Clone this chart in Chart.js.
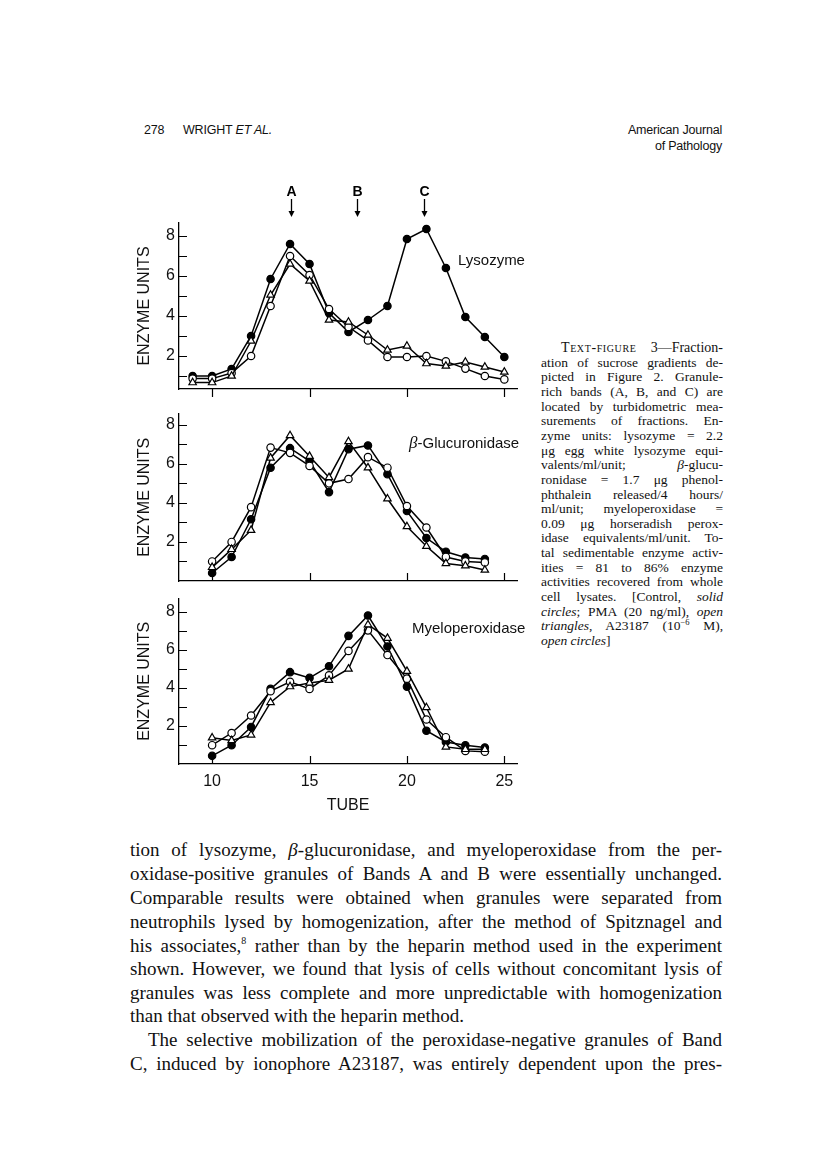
<!DOCTYPE html>
<html>
<head>
<meta charset="utf-8">
<script src="https://cdn.jsdelivr.net/npm/chart.js@4.4.1/dist/chart.umd.min.js"></script>
<style>
  body { margin: 0; background: #fff; }
  #page { position: relative; width: 816px; height: 1164px; overflow: hidden; color: #111; }
  canvas { position: absolute; }
  .sans { font-family: "Liberation Sans", Arial, sans-serif; position: absolute; white-space: nowrap; }
  .lbl { font-size: 15px; line-height: 18px; }
  .hdr { font-size: 12.5px; line-height: 16px; letter-spacing: -0.2px; }
  .cap { position: absolute; left: 541px; width: 182px; font-family: "Liberation Serif", serif; font-size: 13.5px;
         line-height: 15px; text-align: justify; text-align-last: justify; }
  .body { position: absolute; left: 130px; width: 592px; font-family: "Liberation Serif", serif; font-size: 19px;
          line-height: 24px; text-align: justify; text-align-last: justify; }
  .sc { font-variant: small-caps; letter-spacing: 0.6px; font-size: 14px; }
  .up { position: relative; line-height: 0; vertical-align: baseline; }
</style>
</head>
<body>
<div id="page">
  <div class="sans hdr" style="left:144px;top:122px;">278</div>
  <div class="sans hdr" style="left:183px;top:122px;">WRIGHT <i>ET AL.</i></div>
  <div class="sans hdr" style="right:94px;top:122px;text-align:right;">American Journal</div>
  <div class="sans hdr" style="right:94px;top:138px;text-align:right;">of Pathology</div>

  <canvas id="lyso" width="400" height="225" style="left:130px;top:180px"></canvas>
  <canvas id="gluc" width="400" height="200" style="left:130px;top:400px"></canvas>
  <canvas id="mpo" width="400" height="230" style="left:130px;top:585px"></canvas>

  <div class="sans lbl" style="left:458px;top:251px;">Lysozyme</div>
  <div class="sans lbl" style="left:409px;top:434px;"><i style="font-family:'Liberation Serif',serif;font-size:17px;">β</i>-Glucuronidase</div>
  <div class="sans lbl" style="left:412px;top:619px;">Myeloperoxidase</div>

  <div class="cap" style="top:340px;text-indent:20px;font-size:14px;"><span class="sc">Text-figure</span> 3—Fraction-</div>
  <div class="cap" style="top:354.6px;">ation of sucrose gradients de-</div>
  <div class="cap" style="top:369.3px;">picted in Figure 2. Granule-</div>
  <div class="cap" style="top:384px;">rich bands (A, B, and C) are</div>
  <div class="cap" style="top:398.6px;">located by turbidometric mea-</div>
  <div class="cap" style="top:413.2px;">surements of fractions. En-</div>
  <div class="cap" style="top:427.9px;">zyme units: lysozyme = 2.2</div>
  <div class="cap" style="top:442.5px;">μg egg white lysozyme equi-</div>
  <div class="cap" style="top:457.2px;">valents/ml/unit; <i>β</i>-glucu-</div>
  <div class="cap" style="top:471.8px;">ronidase = 1.7 μg phenol-</div>
  <div class="cap" style="top:486.5px;">phthalein released/4 hours/</div>
  <div class="cap" style="top:501.1px;">ml/unit; myeloperoxidase =</div>
  <div class="cap" style="top:515.8px;">0.09 μg horseradish perox-</div>
  <div class="cap" style="top:530.4px;">idase equivalents/ml/unit. To-</div>
  <div class="cap" style="top:545.1px;">tal sedimentable enzyme activ-</div>
  <div class="cap" style="top:559.7px;">ities = 81 to 86% enzyme</div>
  <div class="cap" style="top:574.4px;">activities recovered from whole</div>
  <div class="cap" style="top:589px;">cell lysates. [Control, <i>solid</i></div>
  <div class="cap" style="top:603.7px;"><i>circles</i>; PMA (20 ng/ml), <i>open</i></div>
  <div class="cap" style="top:618.3px;"><i>triangles</i>, A23187 (10<span class="up" style="font-size:8.5px;top:-5px;">−6</span> M),</div>
  <div class="cap" style="top:633px;text-align-last:left;"><i>open circles</i>]</div>

  <div class="body" style="top:838px;">tion of lysozyme, <i>β</i>-glucuronidase, and myeloperoxidase from the per-</div>
  <div class="body" style="top:862px;">oxidase-positive granules of Bands A and B were essentially unchanged.</div>
  <div class="body" style="top:886px;">Comparable results were obtained when granules were separated from</div>
  <div class="body" style="top:910px;">neutrophils lysed by homogenization, after the method of Spitznagel and</div>
  <div class="body" style="top:934px;">his associates,<span class="up" style="font-size:10px;top:-8px;">8</span> rather than by the heparin method used in the experiment</div>
  <div class="body" style="top:957px;">shown. However, we found that lysis of cells without concomitant lysis of</div>
  <div class="body" style="top:981px;">granules was less complete and more unpredictable with homogenization</div>
  <div class="body" style="top:1004px;text-align-last:left;">than that observed with the heparin method.</div>
  <div class="body" style="top:1028px;text-indent:18px;">The selective mobilization of the peroxidase-negative granules of Band</div>
  <div class="body" style="top:1052px;">C, induced by ionophore A23187, was entirely dependent upon the pres-</div>
</div>

<script>
// tube numbers
var tubesLyso = [9, 10, 11, 12, 13, 14, 15, 16, 17, 18, 19, 20, 21, 22, 23, 24, 25];
var tubes = [10, 11, 12, 13, 14, 15, 16, 17, 18, 19, 20, 21, 22, 23, 24];

// lysozyme
var lysoControl = [1.0, 1.0, 1.35, 3.0, 5.85, 7.6, 6.6, 4.15, 3.2, 3.8, 4.5, 7.85, 8.35, 6.4, 3.95, 2.95, 1.95];
var lysoPMA     = [0.67, 0.67, 1.0, 2.75, 5.05, 6.6, 5.75, 3.8, 3.7, 3.05, 2.3, 2.5, 1.62, 1.5, 1.7, 1.45, 1.2];
var lysoA23187  = [0.87, 0.87, 1.15, 2.0, 4.5, 7.0, 6.05, 4.35, 3.45, 2.78, 1.95, 1.95, 2.0, 1.73, 1.37, 1.0, 0.83];

// beta-glucuronidase
var glucControl = [0.41, 1.23, 3.16, 5.8, 6.8, 6.14, 4.55, 6.75, 6.94, 5.47, 3.58, 2.2, 1.5, 1.2, 1.13];
var glucPMA     = [0.7, 1.62, 2.6, 6.3, 7.45, 6.39, 5.3, 7.14, 5.8, 4.21, 2.79, 1.78, 0.9, 0.78, 0.56];
var glucA23187  = [1.0, 2.0, 3.78, 6.83, 6.56, 5.89, 5.0, 5.22, 6.34, 5.8, 3.84, 2.74, 1.23, 1.0, 0.95];

// myeloperoxidase
var mpoControl = [0.43, 0.99, 1.95, 3.95, 4.83, 4.53, 5.14, 6.74, 7.81, 6.18, 4.07, 1.75, 1.16, 0.99, 0.87];
var mpoPMA     = [1.38, 1.24, 1.53, 3.24, 4.07, 4.26, 4.41, 5.0, 7.33, 6.62, 4.88, 2.97, 0.9, 0.77, 0.77];
var mpoA23187  = [0.99, 1.63, 2.55, 3.83, 4.32, 3.95, 4.66, 5.95, 7.03, 5.73, 4.49, 2.34, 1.41, 0.69, 0.65];

// axis ticks and bands
var yTickValues = [1, 2, 3, 4, 5, 6, 7, 8];
var xTickValues = [10, 15, 20, 25];
var bandLabels = ['A', 'B', 'C'];
var bandTubes = [14.05, 17.45, 20.9];

function pts(xs, ys) {
	var out = [];
	for (var i in ys) {
		out.push({x: xs[i], y: ys[i]});
	}
	return out;
}

var inwardTicks = {
	id: 'inwardTicks',
	afterDraw: function(chart, args, opts) {
		var ctx = chart.ctx, xs = chart.scales.x, ys = chart.scales.y;
		ctx.save();
		ctx.strokeStyle = '#000';
		ctx.lineWidth = 1.2;
		ctx.beginPath();
		ys.ticks.forEach(function(t) {
			var y = Math.round(ys.getPixelForValue(t.value)) + 0.5;
			ctx.moveTo(xs.left, y);
			ctx.lineTo(xs.left + 8, y);
		});
		xs.ticks.forEach(function(t) {
			var x = Math.round(xs.getPixelForValue(t.value)) + 0.5;
			ctx.moveTo(x, ys.bottom);
			ctx.lineTo(x, ys.bottom + opts.dir * 8);
		});
		ctx.stroke();
		ctx.restore();
	}
};

var bandArrows = {
	id: 'bandArrows',
	afterDraw: function(chart) {
		var ctx = chart.ctx, xs = chart.scales.x, top = chart.chartArea.top;
		ctx.save();
		ctx.fillStyle = '#000';
		ctx.strokeStyle = '#000';
		ctx.lineWidth = 1.3;
		ctx.font = 'bold 14px "Liberation Sans", Arial, sans-serif';
		ctx.textAlign = 'center';
		ctx.textBaseline = 'middle';
		for (var i in bandLabels) {
			var x = Math.round(xs.getPixelForValue(bandTubes[i])) + 0.5;
			ctx.fillText(bandLabels[i], x, top - 31);
			ctx.beginPath();
			ctx.moveTo(x, top - 24);
			ctx.lineTo(x, top - 9);
			ctx.stroke();
			ctx.beginPath();
			ctx.moveTo(x - 3, top - 12);
			ctx.lineTo(x + 3, top - 12);
			ctx.lineTo(x, top - 6);
			ctx.closePath();
			ctx.fill();
		}
		ctx.restore();
	}
};

function series(data, style, fill) {
	return {
		data: data,
		borderColor: '#000',
		borderWidth: 1.5,
		pointStyle: style,
		pointRadius: style === 'triangle' ? 4.3 : 3.7,
		pointBackgroundColor: fill,
		pointBorderColor: '#000',
		pointBorderWidth: 1.2,
		tension: 0,
		clip: false
	};
}

function makePanel(id, xsData, ctrl, pma, a23, cfg) {
	var plugins = [inwardTicks];
	if (cfg.bands) plugins.push(bandArrows);
	return new Chart(document.getElementById(id), {
		type: 'line',
		data: {
			datasets: [
				series(pts(xsData, pma), 'triangle', '#fff'),
				series(pts(xsData, a23), 'circle', '#fff'),
				series(pts(xsData, ctrl), 'circle', '#000')
			]
		},
		plugins: plugins,
		options: {
			responsive: false,
			animation: false,
			events: [],
			layout: { padding: { top: cfg.padTop, right: 13, left: 0, bottom: 0 } },
			plugins: {
				legend: { display: false },
				tooltip: { enabled: false },
				inwardTicks: { dir: cfg.tickDir }
			},
			scales: {
				x: {
					type: 'linear',
					min: 8.3,
					max: 25.65,
					afterBuildTicks: function(s) { s.ticks = xTickValues.map(function(v) { return {value: v}; }); },
					afterFit: function(s) { s.height = cfg.xHeight; },
					grid: { display: false, drawTicks: false },
					border: { display: true, color: '#000', width: 1.3 },
					ticks: {
						display: cfg.xLabels,
						padding: 8,
						color: '#111',
						font: { family: '"Liberation Sans", Arial, sans-serif', size: 16 }
					},
					title: {
						display: cfg.xLabels,
						text: 'TUBE',
						color: '#111',
						padding: { top: 5, bottom: 0 },
						font: { family: '"Liberation Sans", Arial, sans-serif', size: 16 }
					}
				},
				y: {
					type: 'linear',
					min: cfg.yMin,
					max: cfg.yMax,
					afterBuildTicks: function(s) { s.ticks = yTickValues.map(function(v) { return {value: v}; }); },
					afterFit: function(s) { s.width = 49; },
					grid: { display: false, drawTicks: false },
					border: { display: true, color: '#000', width: 1.3 },
					ticks: {
						padding: 4,
						color: '#111',
						font: { family: '"Liberation Sans", Arial, sans-serif', size: 16 },
						callback: function(v) { return v % 2 === 0 ? String(v) : ''; }
					},
					title: {
						display: true,
						text: 'ENZYME UNITS',
						color: '#111',
						padding: { top: 5, bottom: 0 },
						font: { family: '"Liberation Sans", Arial, sans-serif', size: 16 }
					}
				}
			}
		}
	});
}

makePanel('lyso', tubesLyso, lysoControl, lysoPMA, lysoA23187,
	{ padTop: 43, xHeight: 16, yMin: 0.35, yMax: 8.65, tickDir: 1, xLabels: false, bands: true });
makePanel('gluc', tubes, glucControl, glucPMA, glucA23187,
	{ padTop: 10, xHeight: 19, yMin: 0, yMax: 8.57, tickDir: -1, xLabels: false, bands: false });
makePanel('mpo', tubes, mpoControl, mpoPMA, mpoA23187,
	{ padTop: 8, xHeight: 51, yMin: 0, yMax: 8.7, tickDir: -1, xLabels: true, bands: false });
</script>
</body>
</html>
